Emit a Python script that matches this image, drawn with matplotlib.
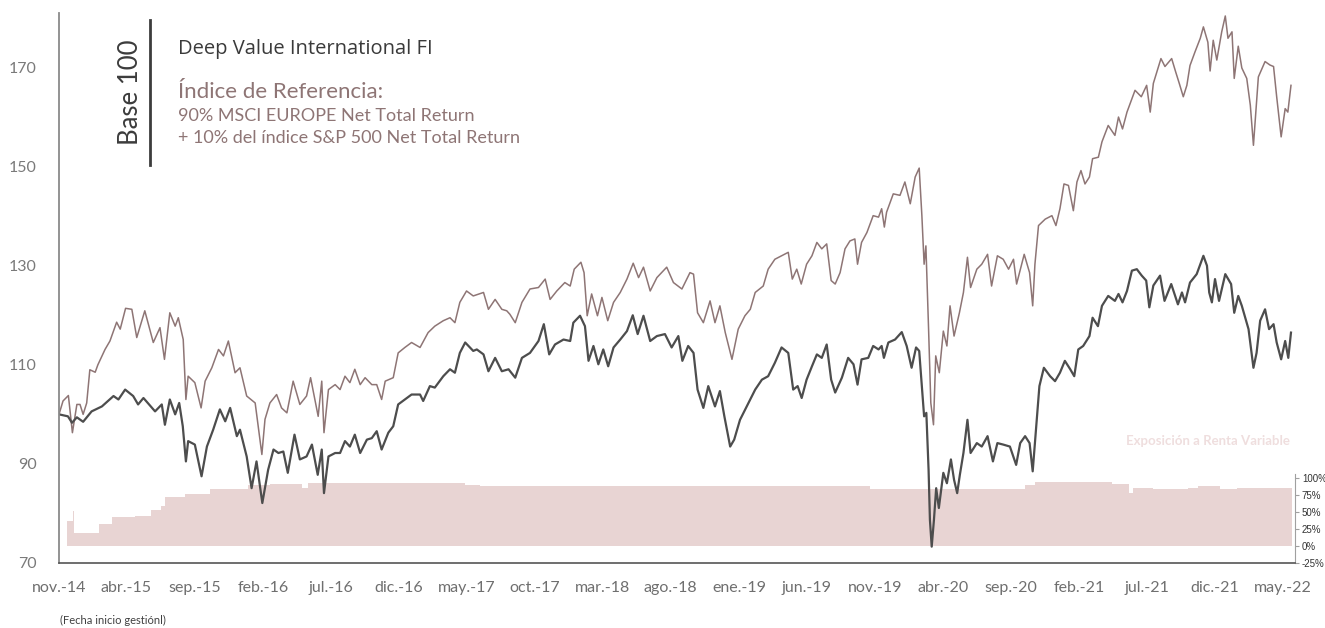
import pandas as pd
import matplotlib.pyplot as plt
from matplotlib.lines import Line2D

# fecha de inicio de gestión; las series se guardan como días desde ese día
launch = pd.Timestamp('2014-11-14')

fund_days = [0, 20, 29, 40, 54, 73, 96, 122, 133, 148, 166, 177, 189, 215, 230, 237, 248, 260, 269, 277,
             284, 289, 304, 319, 331, 345, 360, 372, 383, 398, 405, 420, 431, 442, 455, 468, 480, 491, 502, 512,
             527, 539, 554, 566, 579, 588, 593, 603, 618, 629, 640, 651, 662, 674, 689, 700, 711, 722, 737, 748,
             759, 774, 789, 808, 815, 830, 841, 860, 875, 886, 897, 909, 927, 935, 950, 961, 976, 991, 1006, 1021,
             1036, 1054, 1073, 1085, 1097, 1110, 1129, 1144, 1151, 1166, 1177, 1185, 1196, 1207, 1218, 1229, 1241,
             1256, 1271, 1284, 1295, 1308, 1323, 1338, 1356, 1371, 1386, 1395, 1408, 1420, 1429, 1442, 1453, 1468,
             1479, 1489, 1502, 1511, 1524, 1539, 1558, 1573, 1587, 1602, 1617, 1632, 1643, 1653, 1662, 1673, 1685,
             1696, 1707, 1718, 1728, 1737, 1752, 1766, 1778, 1787, 1796, 1811, 1822, 1834, 1841, 1846, 1856, 1871,
             1886, 1897, 1908, 1918, 1925, 1931, 1936, 1941, 1946, 1949, 1953, 1958, 1963, 1969, 1979, 1987, 1996,
             2003, 2010, 2016, 2024, 2033, 2040, 2054, 2065, 2078, 2090, 2100, 2113, 2128, 2142, 2151, 2162, 2172,
             2179, 2186, 2194, 2204, 2218, 2229, 2240, 2251, 2263, 2272, 2281, 2292, 2306, 2313, 2325, 2334, 2348,
             2363, 2371, 2380, 2390, 2401, 2412, 2423, 2433, 2440, 2449, 2464, 2474, 2489, 2504, 2513, 2520, 2531,
             2546, 2561, 2569, 2574, 2580, 2587, 2596, 2610, 2623, 2630, 2639, 2647, 2662, 2673, 2680, 2688, 2699,
             2708, 2718, 2725, 2735, 2744, 2751, 2757]
fund_vals = [100.0, 99.6, 98.3, 99.4, 98.5, 100.6, 101.6, 103.7, 103.0, 105.0, 103.7, 102.0, 103.3, 100.6, 102.0,
             97.9, 103.0, 100.0, 102.3, 97.6, 90.5, 94.6, 93.9, 87.5, 93.5, 96.9, 101.0, 98.6, 101.3, 95.6, 96.9,
             91.5, 85.1, 90.5, 82.1, 88.8, 92.9, 92.2, 92.5, 88.2, 95.9, 90.9, 91.5, 93.9, 87.8, 92.9, 84.1, 91.5,
             92.2, 92.2, 94.6, 93.5, 95.9, 92.2, 94.9, 95.2, 96.6, 92.9, 96.3, 97.6, 102.0, 103.0, 104.0, 104.0,
             102.7, 105.7, 105.4, 107.7, 109.1, 108.4, 112.4, 114.5, 112.8, 113.1, 112.1, 108.7, 111.4, 108.7, 109.1,
             107.4, 111.4, 112.4, 114.8, 118.2, 112.1, 114.1, 115.1, 114.8, 118.5, 119.9, 117.8, 110.8, 113.8, 110.1,
             113.1, 109.7, 113.5, 115.1, 116.8, 120.0, 116.2, 119.9, 114.8, 115.8, 116.2, 113.5, 115.8, 110.8, 113.8,
             112.4, 105.0, 101.3, 105.7, 101.6, 104.7, 99.6, 93.5, 94.9, 98.9, 101.6, 105.0, 107.0, 107.7, 110.4,
             113.5, 112.4, 105.0, 105.7, 103.3, 107.0, 109.7, 112.1, 111.4, 114.1, 107.0, 104.4, 107.4, 111.4, 110.1,
             106.0, 111.1, 111.4, 113.8, 113.1, 113.8, 111.4, 114.5, 115.1, 116.6, 113.8, 109.4, 113.5, 112.8, 105.7,
             99.6, 100.3, 88.8, 78.7, 73.3, 78.7, 85.1, 81.1, 88.2, 86.1, 90.9, 86.8, 84.1, 87.8, 92.2, 98.9, 92.2,
             94.2, 93.5, 95.6, 90.5, 94.2, 93.9, 93.5, 89.8, 94.2, 95.6, 94.2, 88.5, 96.6, 105.7, 109.4, 107.7, 106.7,
             108.4, 110.8, 109.1, 107.7, 113.1, 113.8, 115.8, 119.5, 117.8, 121.9, 123.9, 122.9, 124.3, 122.6, 124.9,
             129.0, 129.3, 128.0, 127.0, 121.6, 126.0, 128.0, 122.9, 126.3, 122.2, 124.6, 122.6, 126.6, 128.3, 132.0,
             130.0, 124.6, 122.6, 127.3, 122.9, 128.3, 126.3, 120.5, 123.9, 121.9, 117.2, 109.4, 112.4, 118.9, 121.2,
             117.2, 118.2, 114.5, 111.1, 114.8, 111.4, 116.5]

bench_days = [0, 9, 21, 30, 40, 47, 54, 62, 69, 81, 87, 103, 114, 129, 137, 149, 163, 174, 192, 211, 226, 236,
              248, 260, 267, 278, 284, 289, 304, 318, 327, 342, 357, 368, 379, 394, 405, 420, 439, 454, 461, 472,
              487, 498, 510, 524, 539, 554, 563, 580, 588, 593, 603, 618, 629, 640, 651, 662, 674, 685, 700, 711,
              722, 730, 748, 759, 774, 789, 808, 826, 841, 860, 875, 886, 897, 912, 927, 950, 961, 976, 991, 1002,
              1009, 1021, 1036, 1054, 1073, 1088, 1099, 1114, 1132, 1144, 1153, 1168, 1175, 1182, 1192, 1205, 1215,
              1228, 1241, 1256, 1271, 1285, 1297, 1308, 1323, 1338, 1360, 1375, 1394, 1412, 1420, 1429, 1442, 1457,
              1468, 1479, 1491, 1506, 1520, 1535, 1547, 1558, 1576, 1587, 1602, 1617, 1632, 1641, 1651, 1661, 1673,
              1685, 1696, 1707, 1718, 1728, 1737, 1748, 1759, 1770, 1781, 1787, 1796, 1808, 1822, 1834, 1841, 1847,
              1852, 1867, 1882, 1893, 1905, 1916, 1925, 1931, 1936, 1940, 1946, 1951, 1957, 1962, 1970, 1979, 1987,
              1994, 2003, 2015, 2024, 2033, 2040, 2054, 2065, 2078, 2087, 2100, 2113, 2125, 2136, 2143, 2160, 2172,
              2179, 2184, 2192, 2207, 2222, 2231, 2240, 2249, 2259, 2270, 2278, 2287, 2296, 2306, 2313, 2326, 2334,
              2348, 2363, 2371, 2380, 2390, 2408, 2422, 2434, 2442, 2449, 2466, 2475, 2490, 2499, 2507, 2516, 2524,
              2531, 2542, 2554, 2561, 2571, 2576, 2583, 2591, 2602, 2610, 2616, 2625, 2630, 2639, 2647, 2658, 2666,
              2673, 2678, 2684, 2699, 2710, 2718, 2725, 2735, 2744, 2750, 2757]
bench_vals = [100.0, 102.7, 103.8, 96.3, 102.0, 102.0, 100.0, 102.3, 109.0, 108.5, 110.0, 113.1, 114.8, 118.6,
              117.2, 121.4, 121.2, 115.5, 120.9, 114.5, 117.5, 111.1, 120.5, 117.8, 119.5, 115.1, 103.0, 107.7,
              106.4, 101.3, 106.7, 109.4, 113.1, 111.8, 114.8, 108.4, 109.4, 103.7, 102.3, 91.9, 99.0, 102.3, 104.0,
              101.3, 100.3, 106.7, 102.0, 103.7, 107.4, 99.6, 106.7, 96.3, 105.0, 106.0, 105.0, 107.7, 106.4, 109.1,
              106.0, 107.4, 106.0, 106.0, 103.0, 106.7, 107.4, 112.4, 113.5, 114.5, 113.5, 116.5, 117.8, 118.9,
              119.5, 118.5, 122.6, 124.9, 123.9, 124.6, 121.2, 123.2, 121.2, 120.9, 120.2, 118.5, 122.6, 125.3,
              125.6, 127.3, 123.2, 124.9, 126.6, 125.9, 129.3, 130.7, 128.6, 119.9, 124.3, 119.9, 123.6, 118.9,
              122.6, 124.6, 127.3, 130.5, 127.6, 129.7, 124.9, 127.6, 129.7, 126.6, 125.3, 128.6, 128.3, 120.5,
              118.5, 122.9, 118.5, 121.9, 116.5, 111.1, 117.2, 119.9, 121.2, 124.6, 125.9, 129.3, 131.3, 132.0,
              132.7, 127.3, 129.3, 126.3, 130.3, 132.0, 134.7, 133.4, 134.4, 127.0, 126.3, 128.6, 133.4, 135.0,
              135.4, 130.3, 134.7, 136.7, 140.1, 139.8, 141.5, 137.8, 140.8, 144.5, 144.2, 146.9, 142.5, 147.9,
              149.7, 140.1, 130.3, 134.0, 117.2, 102.3, 97.9, 111.8, 108.4, 116.8, 113.8, 121.9, 115.8, 120.5,
              124.6, 131.7, 125.6, 129.3, 130.3, 132.3, 125.9, 132.0, 131.3, 129.3, 131.3, 126.3, 132.3, 128.6,
              121.9, 130.3, 138.1, 139.4, 140.1, 138.1, 141.5, 146.5, 146.2, 141.1, 146.9, 149.2, 146.5, 147.9,
              151.6, 151.9, 155.0, 158.3, 156.3, 160.0, 157.6, 161.0, 165.4, 164.1, 166.4, 161.0, 166.8, 171.8,
              170.2, 171.8, 169.1, 166.8, 164.1, 166.4, 170.4, 173.1, 175.9, 178.2, 175.1, 169.3, 175.5, 171.5,
              177.2, 180.4, 175.9, 177.2, 167.8, 174.3, 169.9, 167.8, 162.4, 154.3, 160.7, 168.1, 171.2, 170.5,
              170.2, 164.1, 156.0, 161.7, 161.0, 166.4]

# exposición a renta variable (%), escalones
expo_days = [0, 19, 31, 34, 90, 119, 170, 207, 228, 237, 282, 338, 424, 472, 544, 558, 909, 942, 1815, 2162,
             2184, 2356, 2395, 2404, 2448, 2527, 2549, 2598, 2636, 2759]
expo_pct = [0, 36.6, 51, 18.8, 31.8, 42.9, 44.8, 53.5, 59.2, 72.7, 76.6, 83.8, 89.6, 91, 86, 92, 90, 88, 84, 90,
            94, 91, 78.5, 85, 83.4, 85.7, 88.6, 83.4, 85.7, 85.7]

month_labels = ['nov.-14', 'abr.-15', 'sep.-15', 'feb.-16', 'jul.-16', 'dic.-16', 'may.-17', 'oct.-17',
                'mar.-18', 'ago.-18', 'ene.-19', 'jun.-19', 'nov.-19', 'abr.-20', 'sep.-20', 'feb.-21',
                'jul.-21', 'dic.-21', 'may.-22']
y_ticks = [70, 90, 110, 130, 150, 170]
expo_ticks = [-25, 0, 25, 50, 75, 100]

FUND_COLOR = '#4d4d4d'
BENCH_COLOR = '#8e7575'
AREA_COLOR = '#e8d4d3'

plt.rcParams['font.family'] = ['Lato', 'DejaVu Sans']

W, H = 1325, 628
fig = plt.figure(figsize=(W / 100, H / 100), dpi=100)


def fx(x):
    return x / W


def fy(y):
    return 1 - y / H


ax = fig.add_axes([fx(59), fy(563), fx(1295) - fx(59), fy(13) - fy(563)])
ax2 = ax.twinx()
ax.set_zorder(ax2.get_zorder() + 1)
ax.patch.set_visible(False)

to_dates = lambda d: launch + pd.to_timedelta(d, unit='D')

ax2.fill_between(to_dates(expo_days), 0, expo_pct, step='post', color=AREA_COLOR, lw=0)
ax.plot(to_dates(bench_days), bench_vals, color=BENCH_COLOR, lw=1.1)
ax.plot(to_dates(fund_days), fund_vals, color=FUND_COLOR, lw=1.6)

ax.set_xlim(launch, launch + pd.Timedelta(days=2766))
ax.set_ylim(70, 181)
ax2.set_ylim(-25, 784)

tick_dates = [launch + pd.DateOffset(months=5 * i) for i in range(len(month_labels))]
ax.set_xticks(tick_dates)
ax.set_xticklabels(month_labels)
ax.set_yticks(y_ticks)
ax.tick_params(axis='x', length=0, pad=13, labelsize=11.5, labelcolor='#6f6f6f')
ax.tick_params(axis='y', length=0, pad=16, labelsize=11.5, labelcolor='#7a7a7a')

for s in ['top', 'right']:
    ax.spines[s].set_visible(False)
ax.spines['left'].set_color('#8a8a8a')
ax.spines['left'].set_linewidth(1.3)
ax.spines['bottom'].set_color('#555555')
ax.spines['bottom'].set_linewidth(1.2)

for s in ['top', 'left', 'bottom']:
    ax2.spines[s].set_visible(False)
ax2.spines['right'].set_color('#a0a0a0')
ax2.spines['right'].set_bounds(-25, 106)
ax2.set_yticks(expo_ticks)
ax2.set_yticklabels([f'{v}%' for v in expo_ticks], family=['Liberation Sans', 'DejaVu Sans'])
ax2.tick_params(axis='y', length=3, width=0.8, color='#a0a0a0', pad=2, labelsize=7, labelcolor='#333333')

# bloque de leyenda
fig.add_artist(Line2D([fx(150), fx(150)], [fy(20), fy(165)], color='#3c3c3c', lw=2))
fig.text(fx(131), fy(92), 'Base 100', rotation=90, ha='center', va='center',
         fontsize=18.5, color='#3c3c3c')
fig.text(fx(178), fy(49), 'Deep Value International FI', ha='left', va='center',
         fontsize=14.5, color='#3a3a3a', family=['Open Sans', 'DejaVu Sans'])
fig.text(fx(178), fy(92), 'Índice de Referencia:', ha='left', va='center',
         fontsize=16, color=BENCH_COLOR)
fig.text(fx(178), fy(116), '90% MSCI EUROPE Net Total Return', ha='left', va='center',
         fontsize=13, color=BENCH_COLOR)
fig.text(fx(178), fy(138), '+ 10% del índice S&P 500 Net Total Return', ha='left', va='center',
         fontsize=13, color=BENCH_COLOR)

fig.text(fx(1290), fy(441), 'Exposición a Renta Variable', ha='right', va='center',
         fontsize=9.5, fontweight='bold', color='#efdede')
fig.text(fx(60), fy(620), '(Fecha inicio gestiónl)', ha='left', va='center',
         fontsize=8, color='#404040')

fig.savefig('out.png', dpi=100)
